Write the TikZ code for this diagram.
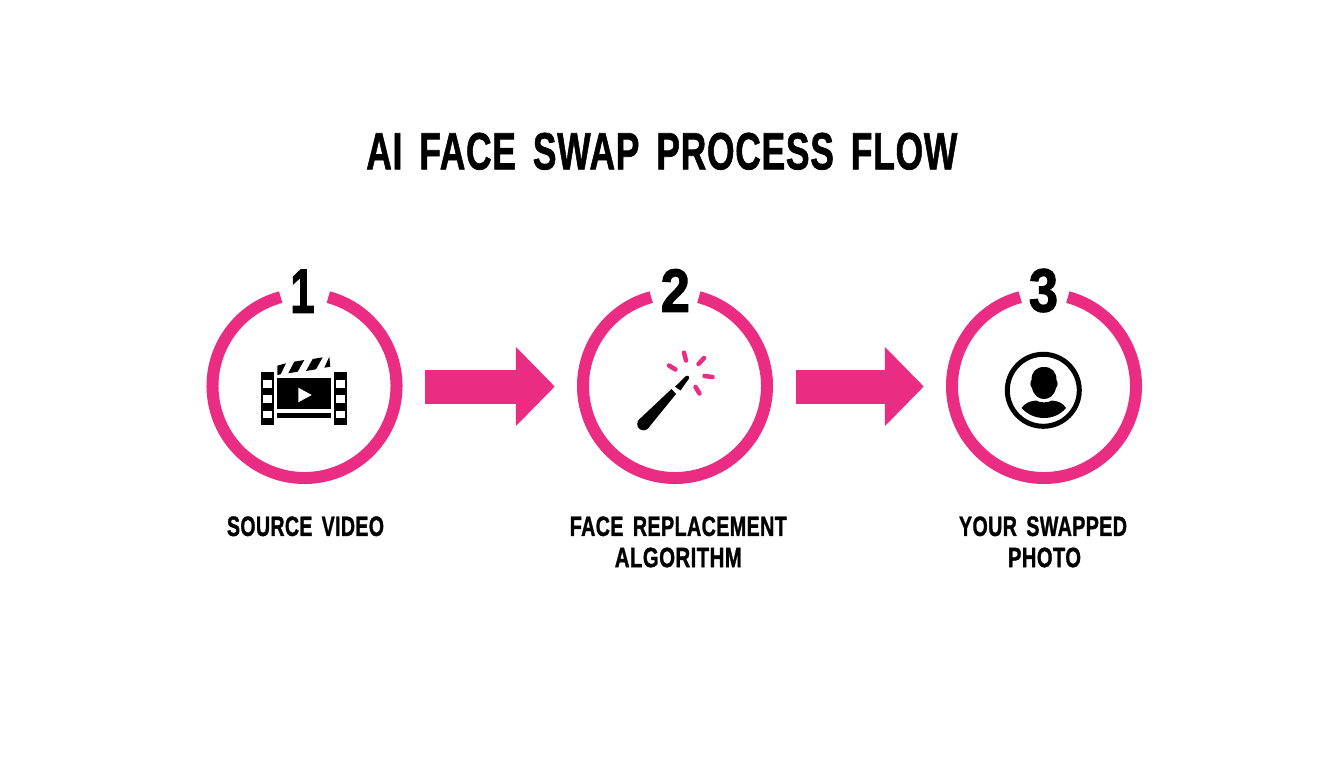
\documentclass[tikz,border=0pt]{standalone}
\usepackage{fontspec}
\setmainfont[WordSpace=1.6,LetterSpace=2,BoldFeatures={FakeBold=1.4}]{Liberation Sans}
\newfontfamily\digitfont[BoldFeatures={FakeBold=2.2}]{Liberation Sans}
\usetikzlibrary{arrows.meta}
\definecolor{hotpink}{RGB}{234,44,130}
\newcommand{\fit}[3]{\resizebox{#1pt}{#2pt}{\bfseries #3}}
\tikzset{
  x=1pt,y=-1pt,
  ring/.style={draw=none,circle,minimum size=196pt,inner sep=0pt},
  ringarc/.style={draw=hotpink,line width=12pt},
  blockarrow/.style={draw=hotpink,line width=34pt,-{Triangle[length=39pt,width=77pt,fill=hotpink]},shorten <=22.5pt,shorten >=22pt},
  label/.style={inner sep=0pt,text=black},
  spark/.style={draw=hotpink,line width=4.5pt,line cap=round},
  ink/.style={fill=black,draw=none},
  hole/.style={fill=white,draw=none}
}
\begin{document}
\begin{tikzpicture}
\useasboundingbox[fill=white] (0,0) rectangle (1344,768);
% title
\node[label] (title) at (661.8,151.3) {\fit{591}{36.5}{AI FACE SWAP PROCESS FLOW}};
% rings
\node[ring] (c1) at (304.5,386) {};
\node[ring] (c2) at (675,386) {};
\node[ring] (c3) at (1044,386) {};
\foreach \n in {c1,c2,c3}{
  \draw[ringarc] (\n) ++(105:92pt) arc[start angle=105,end angle=435,radius=92pt];
}
% numbers
\node[label] (n1) at (302.5,291.3) {\fit{24}{43}{\digitfont 1}};
\node[label] (n2) at (675.3,290.5) {\fit{29}{42.5}{\digitfont 2}};
\node[label] (n3) at (1043.5,290.5) {\fit{29}{42.5}{\digitfont 3}};
% connectors
\draw[blockarrow] ([yshift=-0.5pt]c1.east) -- ([yshift=-0.5pt]c2.west);
\draw[blockarrow] ([yshift=-0.5pt]c2.east) -- ([yshift=-0.5pt]c3.west);
% labels
\node[label] (l1) at (305.5,526.3) {\fit{157}{19.5}{SOURCE VIDEO}};
\node[label] (l2a) at (678.3,526.3) {\fit{217}{19.5}{FACE REPLACEMENT}};
\node[label] (l2b) at (678.3,557.5) {\fit{127}{19.5}{ALGORITHM}};
\node[label] (l3a) at (1043,526.3) {\fit{168}{19.5}{YOUR SWAPPED}};
\node[label] (l3b) at (1044.5,557.5) {\fit{73}{19.5}{PHOTO}};
% film icon
\fill[ink] (261,371.7) rectangle (274,425);
\fill[ink] (334,371.7) rectangle (347,425);
\foreach \y in {380,395,410.5}{
  \fill[hole] (263.4,\y) rectangle (271.6,\y+7.7);
  \fill[hole] (336.4,\y) rectangle (344.6,\y+7.7);
}
\fill[ink] (277.3,378.3) rectangle (330.5,409);
\fill[ink] (277.3,412.7) rectangle (330.5,418.3);
\fill[hole] (298.3,387.7) -- (311.7,395) -- (298.3,402.3) -- cycle;
\fill[ink] (277.3,365.7) -- (286,363.3) -- (280.7,374.3) -- (277.3,375) -- cycle;
\fill[ink] (294.3,361.7) -- (304.3,360) -- (297.7,371.7) -- (288.3,373.3) -- cycle;
\fill[ink] (312.7,359) -- (322.7,357.3) -- (316,369.3) -- (306,371) -- cycle;
\fill[ink] (329.3,356.7) -- (330.3,366.7) -- (324.3,367.7) -- cycle;
% wand icon
\fill[ink] (671.5,389) -- (676,394) -- (648.1,428.3) -- (638.9,419.7) -- cycle;
\fill[ink] (643.5,424) circle[radius=6.3pt];
\fill[ink] (675,386.7) -- (686,376) .. controls (688,374.5) and (690,376) .. (689,378.5) -- (680.5,390.5) -- cycle;
\draw[spark] (684,352.7) -- (686,360.5);
\draw[spark] (698.5,364) -- (704,358);
\draw[spark] (704.5,376) -- (712.5,377);
\draw[spark] (695.5,387) -- (699.5,393.5);
\draw[spark] (669,365.5) -- (675.5,369.5);
% person icon
\draw[line width=5pt,draw=black] (1043.3,390.3) circle[radius=36pt];
\fill[ink] (1044,367) .. controls (1052,367) and (1056.5,372) .. (1056.5,380) .. controls (1058,382) and (1058,386) .. (1056,388) .. controls (1054,396) and (1049,399) .. (1044,399) .. controls (1039,399) and (1034,396) .. (1032,388) .. controls (1030,386) and (1030,382) .. (1031.5,380) .. controls (1031.5,372) and (1036,367) .. (1044,367) -- cycle;
\fill[ink] (1021.5,408) .. controls (1025,403) and (1030,401) .. (1036,400.5) .. controls (1040,403) and (1048,403) .. (1052,400.5) .. controls (1058,401) and (1063,403) .. (1066,408) .. controls (1060,415) and (1052,418) .. (1044,418) .. controls (1036,418) and (1028,415) .. (1021.5,408) -- cycle;
\end{tikzpicture}
\end{document}
